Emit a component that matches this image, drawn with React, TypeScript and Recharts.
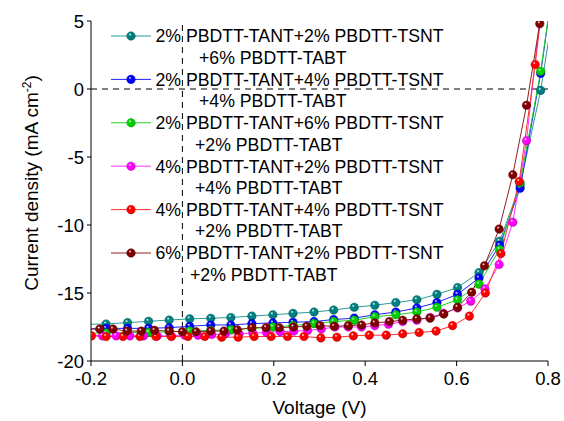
import React from 'react';
import { LineChart, Line, XAxis, YAxis, ReferenceLine, Legend, Label } from 'recharts';

// ---------- data ----------
const sharedV1 = [-0.212, -0.167, -0.120, -0.074, -0.029, 0.016, 0.062, 0.106, 0.152, 0.198, 0.242, 0.288, 0.331, 0.376, 0.421, 0.467, 0.513, 0.557, 0.602, 0.649, 0.694, 0.739, 0.784, 0.829];
const tealJ = [-17.3, -17.28, -17.18, -17.08, -16.99, -16.9, -16.86, -16.8, -16.7, -16.6, -16.5, -16.4, -16.25, -16.05, -15.9, -15.7, -15.5, -15.1, -14.6, -13.5, -11.2, -7.06, -0.1, 9.5];
const blueJ = [-17.65, -17.6, -17.6, -17.6, -17.55, -17.45, -17.35, -17.35, -17.25, -17.2, -17.15, -17.1, -16.95, -16.85, -16.6, -16.4, -16.1, -15.7, -15.1, -13.9, -11.5, -7.3, 1.15, 12];
const greenJ = [-17.95, -17.95, -17.9, -17.9, -17.85, -17.8, -17.75, -17.7, -17.6, -17.5, -17.4, -17.25, -17.1, -17.0, -16.75, -16.6, -16.4, -16.05, -15.5, -14.35, -11.8, -6.9, 1.3, 12];

const magentaV = [-0.205, -0.175, -0.145, -0.115, -0.085, -0.055, -0.025, 0.005, 0.034, 0.064, 0.094, 0.124, 0.154, 0.184, 0.214, 0.244, 0.274, 0.304, 0.334, 0.363, 0.392, 0.421, 0.451, 0.482, 0.513, 0.542, 0.571, 0.602, 0.631, 0.662, 0.693, 0.723, 0.753, 0.783];
const magentaJ = [-18.1, -18.15, -18.15, -18.15, -18.15, -18.15, -18.15, -18.1, -18.1, -18.05, -18.0, -18.0, -17.95, -17.9, -17.85, -17.8, -17.75, -17.65, -17.5, -17.5, -17.5, -17.4, -17.3, -17.1, -17.0, -16.8, -16.5, -16.1, -15.6, -14.7, -12.9, -9.8, -3.8, 5.5];

const redV = [-0.199, -0.167, -0.130, -0.093, -0.058, -0.024, 0.012, 0.049, 0.086, 0.122, 0.157, 0.194, 0.230, 0.266, 0.303, 0.338, 0.374, 0.409, 0.446, 0.482, 0.518, 0.555, 0.591, 0.628, 0.663, 0.697, 0.737, 0.772, 0.808];
const redJ = [-18.15, -18.2, -18.2, -18.2, -18.2, -18.2, -18.2, -18.2, -18.25, -18.25, -18.2, -18.2, -18.2, -18.2, -18.3, -18.25, -18.15, -18.1, -18.1, -18.0, -17.9, -17.8, -17.4, -16.7, -15.0, -12.1, -6.8, 1.8, 12];

const brownV = [-0.211, -0.181, -0.152, -0.121, -0.090, -0.061, -0.029, 0.000, 0.030, 0.062, 0.091, 0.120, 0.152, 0.183, 0.212, 0.243, 0.272, 0.301, 0.332, 0.363, 0.392, 0.421, 0.453, 0.482, 0.513, 0.542, 0.572, 0.602, 0.633, 0.661, 0.693, 0.723, 0.753, 0.782];
const brownJ = [-17.65, -17.65, -17.65, -17.8, -17.8, -17.75, -17.8, -17.85, -17.85, -17.8, -17.8, -17.7, -17.55, -17.55, -17.55, -17.5, -17.45, -17.4, -17.45, -17.4, -17.35, -17.2, -17.1, -17.0, -16.9, -16.85, -16.55, -16.05, -14.95, -13.0, -10.3, -6.3, -1.2, 4.8];

const legendLine1 = [
  '2% PBDTT-TANT+2% PBDTT-TSNT',
  '2% PBDTT-TANT+4% PBDTT-TSNT',
  '2% PBDTT-TANT+6% PBDTT-TSNT',
  '4% PBDTT-TANT+2% PBDTT-TSNT',
  '4% PBDTT-TANT+4% PBDTT-TSNT',
  '6% PBDTT-TANT+2% PBDTT-TSNT',
];
const legendLine2 = [
  '+6% PBDTT-TABT',
  '+4% PBDTT-TABT',
  '+2% PBDTT-TABT',
  '+4% PBDTT-TABT',
  '+2% PBDTT-TABT',
  '+2% PBDTT-TABT',
];

const xTicks = [-0.2, 0, 0.2, 0.4, 0.6, 0.8];
const xMinorTicks = [-0.1, 0.1, 0.3, 0.5, 0.7];
const yTicks = [5, 0, -5, -10, -15, -20];
const yMinorTicks = [2.5, -2.5, -7.5, -12.5, -17.5];

// ---------- styles ----------
const colors = ['#008080', '#0000ff', '#00d000', '#ff00ff', '#ff0000', '#800000'];
const lineColors = ['#2a9a9a', '#2020ff', '#20d020', '#ff30ff', '#ff3030', '#902020'];
const darkColors = ['#006060', '#0000c0', '#00a000', '#c000c0', '#c00000', '#600000'];
const indent2 = [199, 199, 195, 195, 195, 190];
const FONT = '"Liberation Sans", Arial, sans-serif';

const zip = (vs: number[], js: number[]) => vs.map((v, i) => ({ v, j: js[i] }));
const series = [
  zip(sharedV1, tealJ),
  zip(sharedV1, blueJ),
  zip(sharedV1, greenJ),
  zip(magentaV, magentaJ),
  zip(redV, redJ),
  zip(brownV, brownJ),
];

const makeDot = (si: number) => (props: any) => {
  const { cx, cy, index } = props;
  if (cx == null || cy == null) return <g key={`d${si}-${index}`} />;
  return (
    <circle
      key={`d${si}-${index}`}
      cx={cx}
      cy={cy}
      r={4.3}
      fill={`url(#grad${si})`}
      stroke={darkColors[si]}
      strokeWidth={0.4}
    />
  );
};

const Gradients = () => (
  <defs>
    {colors.map((c, i) => (
      <radialGradient key={i} id={`grad${i}`} cx="40%" cy="38%" r="62%" fx="38%" fy="32%">
        <stop offset="0%" stopColor="#ffffff" stopOpacity={0.9} />
        <stop offset="28%" stopColor={c} />
        <stop offset="80%" stopColor={c} />
        <stop offset="100%" stopColor={darkColors[i]} />
      </radialGradient>
    ))}
  </defs>
);

const LegendBox = () => {
  const y0 = 36;
  const step = 43.4;
  return (
    <svg width={470} height={300} style={{ overflow: 'visible', display: 'block' }}>
      {legendLine1.map((t, i) => {
        const y = y0 + step * i;
        return (
          <g key={i}>
            <line x1={111} x2={151} y1={y} y2={y} stroke={lineColors[i]} strokeWidth={1} />
            <circle cx={131} cy={y} r={4.3} fill={`url(#grad${i})`} stroke={darkColors[i]} strokeWidth={0.4} />
            <text x={155.5} y={y + 6.3} fontSize={17.7} fontFamily={FONT} fill="#000">{t}</text>
            <text x={indent2[i]} y={y + 27.8} fontSize={17.7} fontFamily={FONT} fill="#000">{legendLine2[i]}</text>
          </g>
        );
      })}
    </svg>
  );
};

const YTitle = () => (
  <text
    x={37.5}
    y={183}
    transform="rotate(-90 37.5 183)"
    textAnchor="middle"
    fontSize={19}
    fontFamily={FONT}
    fill="#000"
  >
    Current density (mA cm<tspan dy={-7} fontSize={12}>-2</tspan><tspan dy={7}>)</tspan>
  </text>
);

const XTitle = (props: any) => {
  const vb = props.viewBox || {};
  const cx = (vb.x ?? 91) + (vb.width ?? 457) / 2;
  return (
    <text x={cx} y={414} textAnchor="middle" fontSize={19} fontFamily={FONT} fill="#000">
      Voltage (V)
    </text>
  );
};

export default function App() {
  return (
    <div style={{ position: 'absolute', left: 0, top: 0, background: '#fff' }}>
      <LineChart width={564} height={421} margin={{ top: 21, right: 16, left: 0, bottom: 0 }}>
        <Gradients />
        <XAxis
          xAxisId="main"
          dataKey="v"
          type="number"
          domain={[-0.2, 0.8]}
          allowDataOverflow
          ticks={xTicks}
          tickFormatter={(v: number) => v.toFixed(1)}
          height={60}
          tickSize={5}
          tickMargin={6}
          axisLine={{ stroke: '#000', strokeWidth: 1 }}
          tickLine={{ stroke: '#000' }}
          tick={{ fill: '#000', fontSize: 18.5, fontFamily: FONT }}
          interval={0}
        >
          <Label content={<XTitle />} />
        </XAxis>
        <XAxis
          xAxisId="minor"
          dataKey="v"
          type="number"
          domain={[-0.2, 0.8]}
          allowDataOverflow
          ticks={xMinorTicks}
          height={0}
          tickSize={3}
          axisLine={false}
          tickLine={{ stroke: '#000' }}
          tick={false}
          interval={0}
        />
        <XAxis
          xAxisId="top"
          orientation="top"
          dataKey="v"
          type="number"
          domain={[-0.2, 0.8]}
          allowDataOverflow
          height={0}
          tick={false}
          tickLine={false}
          axisLine={{ stroke: '#000', strokeWidth: 1 }}
        />
        <YAxis
          yAxisId="main"
          type="number"
          domain={[-20, 5]}
          allowDataOverflow
          ticks={yTicks}
          width={91}
          tickSize={4}
          tickMargin={3}
          axisLine={{ stroke: '#000', strokeWidth: 1 }}
          tickLine={{ stroke: '#000' }}
          tick={{ fill: '#000', fontSize: 18.5, fontFamily: FONT }}
          interval={0}
        >
          <Label content={<YTitle />} />
        </YAxis>
        <YAxis
          yAxisId="minor"
          type="number"
          domain={[-20, 5]}
          allowDataOverflow
          ticks={yMinorTicks}
          width={0}
          tickSize={2.5}
          axisLine={false}
          tickLine={{ stroke: '#000' }}
          tick={false}
          interval={0}
        />
        <YAxis
          yAxisId="right"
          orientation="right"
          type="number"
          domain={[-20, 5]}
          allowDataOverflow
          width={0}
          tick={false}
          tickLine={false}
          axisLine={{ stroke: '#000', strokeWidth: 1 }}
        />
        <ReferenceLine xAxisId="main" yAxisId="main" x={0} stroke="#000" strokeDasharray="6 5" strokeWidth={1} />
        <ReferenceLine xAxisId="main" yAxisId="main" y={0} stroke="#000" strokeDasharray="6 5" strokeWidth={1} />
        {series.map((d, i) => (
          <Line
            key={i}
            xAxisId="main"
            yAxisId="main"
            data={d}
            dataKey="j"
            type="linear"
            stroke={lineColors[i]}
            strokeWidth={1}
            dot={makeDot(i)}
            activeDot={false}
            isAnimationActive={false}
            legendType="none"
          />
        ))}
        <Legend
          layout="vertical"
          align="center"
          verticalAlign="middle"
          content={<LegendBox />}
          wrapperStyle={{ left: 0, top: 0, width: 470, height: 300 }}
        />
      </LineChart>
    </div>
  );
}
